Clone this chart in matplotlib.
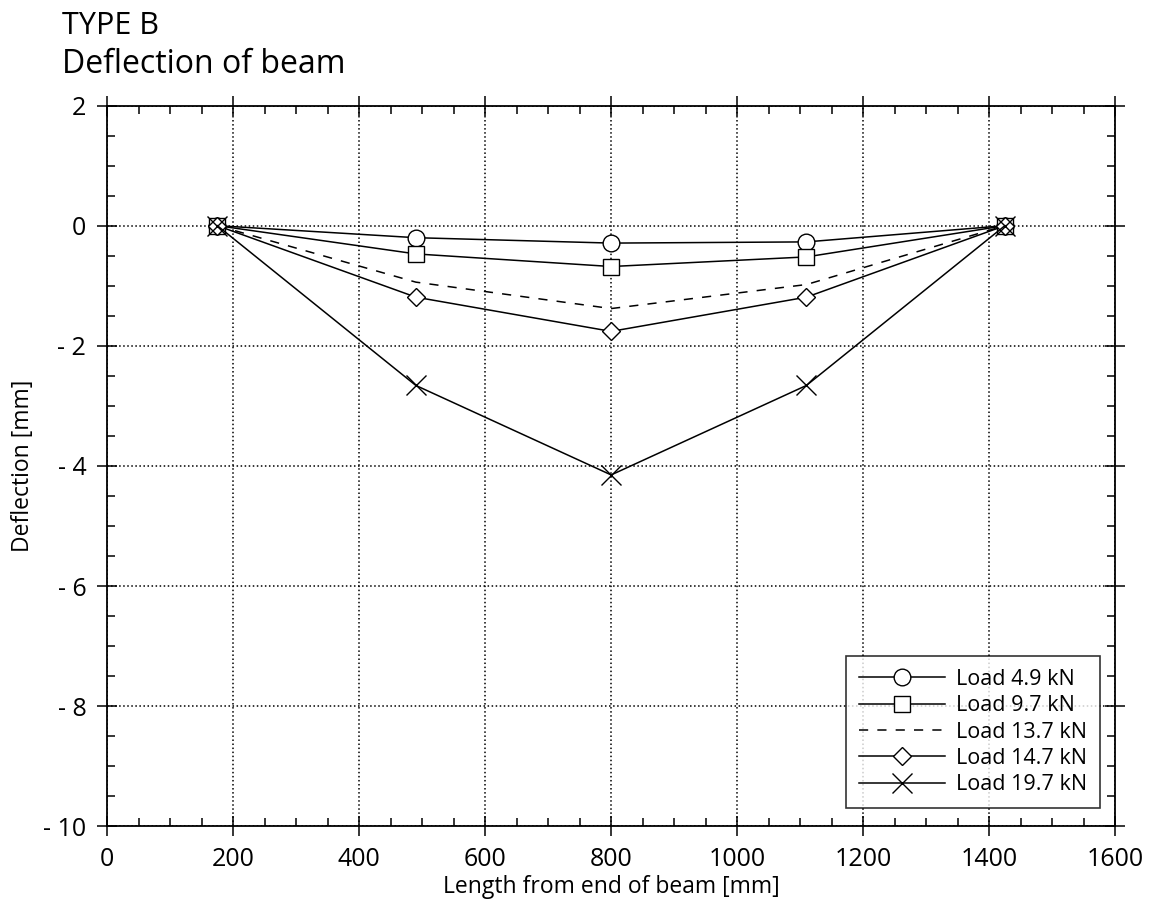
import matplotlib.pyplot as plt
from matplotlib.ticker import MultipleLocator, FuncFormatter

plt.rcParams['font.family'] = ['Open Sans', 'DejaVu Sans']

# positions along the beam [mm]
x = [175, 490, 800, 1110, 1425]

# deflections [mm] for each load
load_4_9 = [0, -0.20, -0.29, -0.27, 0]
load_9_7 = [0, -0.47, -0.68, -0.52, 0]
load_13_7 = [0, -0.94, -1.38, -0.98, 0]
load_14_7 = [0, -1.19, -1.76, -1.19, 0]
load_19_7 = [0, -2.66, -4.15, -2.66, 0]

fig = plt.figure(figsize=(11.52, 9.1), dpi=100)
ax = fig.add_axes([0.093, 0.092, 0.875, 0.792])

ax.plot(x, load_4_9, 'k-', lw=1.1, marker='o', ms=12, mfc='white', mew=1, label='Load 4.9 kN')
ax.plot(x, load_9_7, 'k-', lw=1.1, marker='s', ms=11, mfc='white', mew=1, label='Load 9.7 kN')
ax.plot(x, load_13_7, 'k', lw=1.1, ls=(0, (6, 6)), label='Load 13.7 kN')
ax.plot(x, load_14_7, 'k-', lw=1.1, marker='D', ms=9, mfc='white', mew=1, label='Load 14.7 kN')
ax.plot(x, load_19_7, 'k-', lw=1.1, marker='x', ms=14, mew=1, label='Load 19.7 kN')

ax.set_xlim(0, 1600)
ax.set_ylim(-10, 2)
ax.xaxis.set_major_locator(MultipleLocator(200))
ax.xaxis.set_minor_locator(MultipleLocator(50))
ax.yaxis.set_major_locator(MultipleLocator(2))
ax.yaxis.set_minor_locator(MultipleLocator(0.5))
ax.yaxis.set_major_formatter(FuncFormatter(lambda v, p: f'- {abs(v):g}' if v < 0 else f'{v:g}'))

ax.tick_params(which='major', direction='inout', length=14, width=1.1, top=True, right=True,
               labelsize=18, pad=8)
ax.tick_params(which='minor', direction='in', length=6, width=1.1, top=True, right=True)
ax.grid(True, which='major', ls=':', color='k', lw=1.1)
for s in ax.spines.values():
    s.set_linewidth(1.3)

ax.set_xlabel('Length from end of beam [mm]', fontsize=16.5, labelpad=2)
ax.set_ylabel('Deflection [mm]', fontsize=16.5, labelpad=6)

fig.text(0.054, 0.9715, 'TYPE B', fontsize=22, va='center')
fig.text(0.054, 0.929, 'Deflection of beam', fontsize=23, va='center')

leg = ax.legend(loc='lower right', bbox_to_anchor=(0.985, 0.025), borderaxespad=0,
                fontsize=15.5, frameon=True, fancybox=False, edgecolor='k',
                handlelength=4, borderpad=0.6, labelspacing=0.25, handletextpad=0.5)
leg.get_frame().set_linewidth(1.2)

fig.savefig('out.png', dpi=100)
